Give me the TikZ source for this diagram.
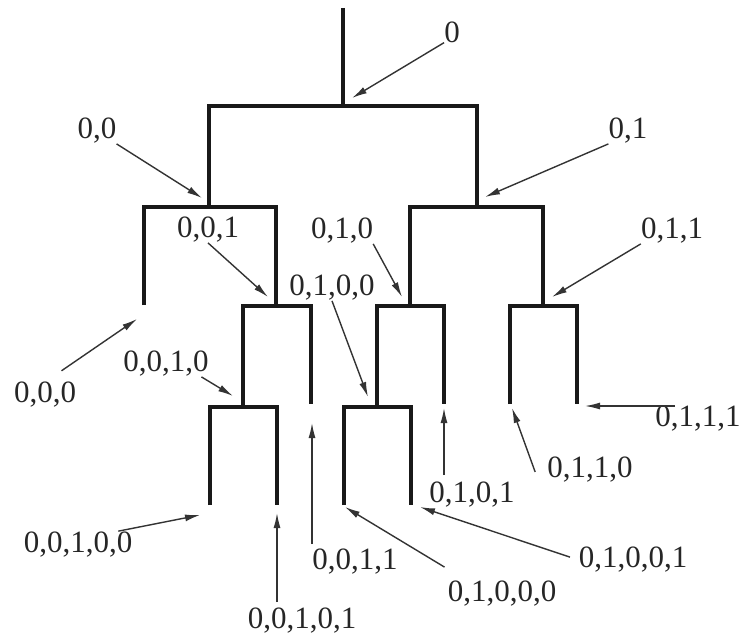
\documentclass[tikz,border=0pt]{standalone}
\usepackage{fontspec}
\setmainfont{Liberation Serif}
\usepackage{tikz}
\usetikzlibrary{arrows.meta}

\begin{document}
\begin{tikzpicture}[x=1pt,y=-1pt,
  br/.style={line width=3.6pt,line join=miter,black!90},
  lb/.style={inner sep=0pt,font=\fontsize{31}{36}\selectfont,text=black!85},
  ar/.style={line width=1.4pt,black!80,-{Latex[length=15pt,width=7pt]}}]
 \useasboundingbox (0,0) rectangle (741,642);
 % tree
 \coordinate (t) at (343,8);
 \coordinate (v0) at (343,106);
 \coordinate (v00) at (209,207);
 \coordinate (v01) at (477,207);
 \coordinate (v000) at (144,305);
 \coordinate (v001) at (276,306);
 \coordinate (v010) at (410,306);
 \coordinate (v011) at (543,306);
 \coordinate (v0010) at (243,407);
 \coordinate (v0011) at (311,404);
 \coordinate (v0100) at (377,407);
 \coordinate (v0101) at (444,404);
 \coordinate (v0110) at (510,404);
 \coordinate (v0111) at (577,404);
 \coordinate (v00100) at (210,505);
 \coordinate (v00101) at (277,505);
 \coordinate (v01000) at (344,505);
 \coordinate (v01001) at (411,505);
 \draw[br] (t)--(v0);
 \foreach \p/\a/\b in {v0/v00/v01,v00/v000/v001,v01/v010/v011,v001/v0010/v0011,
   v010/v0100/v0101,v011/v0110/v0111,v0010/v00100/v00101,v0100/v01000/v01001}
   \draw[br] (\a) |- (\p) -| (\b);
 % labels
 \node[lb] (l0) at (452,32) {0};
 \node[lb] (l00) at (97,131) {0,0};
 \node[lb] (l01) at (628,131) {0,1};
 \node[lb] (l000) at (45,395) {0,0,0};
 \node[lb] (l001) at (208,230) {0,0,1};
 \node[lb] (l010) at (342,231) {0,1,0};
 \node[lb] (l011) at (672,231) {0,1,1};
 \node[lb] (l0010) at (166,364) {0,0,1,0};
 \node[lb] (l0011) at (355,562) {0,0,1,1};
 \node[lb] (l0100) at (332,288) {0,1,0,0};
 \node[lb] (l0101) at (472,495) {0,1,0,1};
 \node[lb] (l0110) at (590,470) {0,1,1,0};
 \node[lb] (l0111) at (698,419) {0,1,1,1};
 \node[lb] (l00100) at (78,545) {0,0,1,0,0};
 \node[lb] (l00101) at (302,621) {0,0,1,0,1};
 \node[lb] (l01000) at (502,594) {0,1,0,0,0};
 \node[lb] (l01001) at (633,560) {0,1,0,0,1};
 % arrow tips
 \coordinate (e0) at (352,98);
 \coordinate (e00) at (202,198);
 \coordinate (e01) at (485,197);
 \coordinate (e000) at (137,319);
 \coordinate (e001) at (268,297);
 \coordinate (e010) at (402,297);
 \coordinate (e011) at (552,297);
 \coordinate (e0010) at (233,396);
 \coordinate (e0011) at (312,423);
 \coordinate (e0100) at (368,397);
 \coordinate (e0101) at (444,408);
 \coordinate (e0110) at (512,408);
 \coordinate (e0111) at (585,406);
 \coordinate (e00100) at (200,515);
 \coordinate (e00101) at (277,513);
 \coordinate (e01000) at (345,507);
 \coordinate (e01001) at (420,507);
 \draw[ar] (l0.south west)--(e0);
 \draw[ar] (l00.south east)--(e00);
 \draw[ar] (l01.south west)--(e01);
 \draw[ar,shorten <=20pt] (l000.north)--(e000);
 \draw[ar] (l001.south)--(e001);
 \draw[ar] (l010.south east)--(e010);
 \draw[ar] (l011.south west)--(e011);
 \draw[ar] (l0010.-20)--(e0010);
 \draw[ar,shorten <=5pt] (l0011.north -| e0011)--(e0011);
 \draw[ar] (l0100.south)--(e0100);
 \draw[ar,shorten <=7pt] (l0101.north -| e0101)--(e0101);
 \draw[ar] ([shift={(-12,2)}]l0110.west)--(e0110);
 \draw[ar,shorten <=23pt] (e0111 -| l0111.center)--(e0111);
 \draw[ar,shorten <=5pt] (l00100.20)--(e00100);
 \draw[ar,shorten <=6pt] (l00101.north -| e00101)--(e00101);
 \draw[ar] ([shift={(-3,-14)}]l01000.north west)--(e01000);
 \draw[ar,shorten <=9pt] (l01001.west)--(e01001);
\end{tikzpicture}
\end{document}
